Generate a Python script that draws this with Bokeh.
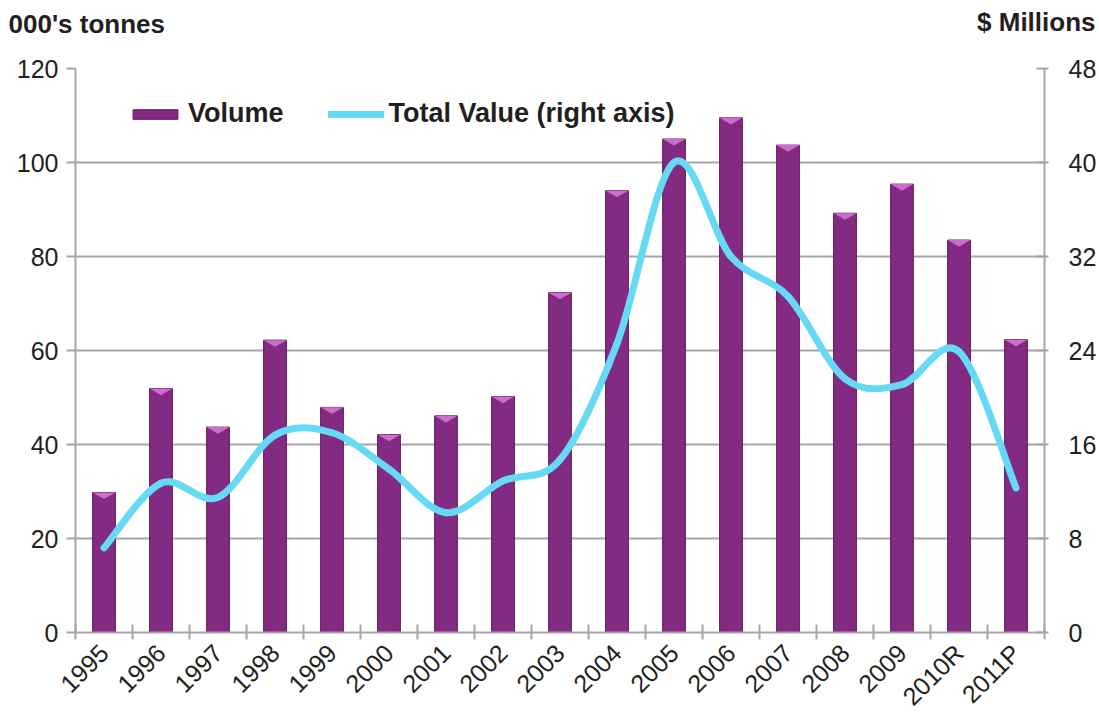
import math
from bokeh.plotting import figure
from bokeh.models import (Range1d, LinearAxis, FixedTicker, Legend, LegendItem, Title,
                          ColumnDataSource)
from bokeh.embed import file_html
from bokeh.resources import INLINE

years = ["1995", "1996", "1997", "1998", "1999", "2000", "2001", "2002", "2003",
         "2004", "2005", "2006", "2007", "2008", "2009", "2010R", "2011P"]
volume = [29.8, 51.9, 43.7, 62.2, 47.9, 42.1, 46.1, 50.2, 72.3,
          94.0, 105.0, 109.5, 103.7, 89.2, 95.4, 83.5, 62.3]
value = [7.2, 12.7, 11.5, 16.8, 17.0, 13.9, 10.2, 12.9, 14.7,
         24.6, 40.0, 32.0, 28.6, 21.6, 21.1, 23.9, 12.3]
left_ticks = [0, 20, 40, 60, 80, 100, 120]
right_ticks = [0, 8, 16, 24, 32, 40, 48]

FONT = "Liberation Sans"
AXIS_COLOR = "#A6A6A6"
TEXT_COLOR = "#231F20"
BAR_COLOR = "#832A82"
LINE_COLOR = "#66D9F5"

n = len(years)
xc = [i + 0.5 for i in range(n)]
bw = 0.40

t_left = Title(text="000's tonnes", align="left", offset=-67, standoff=-72,
               text_font=FONT, text_font_size="26px", text_font_style="bold",
               text_color=TEXT_COLOR)
t_right = Title(text="$ Millions\n ", align="right", offset=-51, standoff=4,
                text_font=FONT, text_font_size="26px", text_font_style="bold",
                text_color=TEXT_COLOR)

p = figure(width=1099, height=723, output_backend="svg", toolbar_location=None,
           x_range=Range1d(0, n), y_range=Range1d(0, 120),
           min_border_left=75, min_border_right=55, min_border_top=68, min_border_bottom=90)
p.title = t_left
p.add_layout(t_right, "above")
p.outline_line_color = None
p.background_fill_color = "white"
p.border_fill_color = "white"
p.extra_y_ranges = {"right": Range1d(0, 48)}

# bars
src = ColumnDataSource(dict(x=xc, top=volume))
bars = p.vbar(x="x", top="top", width=bw, source=src, fill_color=BAR_COLOR,
              line_color="#5E1D5E", line_width=1)
# bevel highlight on top of each bar
xs = [[x - bw / 2, x + bw / 2, x] for x in xc]
ys = [[v, v, v - 1.4] for v in volume]
p.patches(xs, ys, fill_color="#CC6CCC", line_color=None)

# smooth line (Catmull-Rom style bezier through the data points)
px = xc
py = value
x0s, y0s, x1s, y1s, cx0, cy0, cx1, cy1 = [], [], [], [], [], [], [], []
for i in range(n - 1):
    xa, ya = px[max(i - 1, 0)], py[max(i - 1, 0)]
    xb, yb = px[i], py[i]
    xcn, ycn = px[i + 1], py[i + 1]
    xd, yd = px[min(i + 2, n - 1)], py[min(i + 2, n - 1)]
    x0s.append(xb); y0s.append(yb); x1s.append(xcn); y1s.append(ycn)
    cx0.append(xb + (xcn - xa) / 6); cy0.append(yb + (ycn - ya) / 6)
    cx1.append(xcn - (xd - xb) / 6); cy1.append(ycn - (yd - yb) / 6)
curve = p.bezier(x0=x0s, y0=y0s, x1=x1s, y1=y1s, cx0=cx0, cy0=cy0, cx1=cx1, cy1=cy1,
                 line_color=LINE_COLOR, line_width=7, line_cap="round",
                 y_range_name="right")

# axes
xaxis = p.xaxis[0]
xaxis.ticker = FixedTicker(ticks=xc, minor_ticks=list(range(n + 1)))
xaxis.major_label_overrides = {x: y for x, y in zip(xc, years)}
xaxis.major_tick_in = 0
xaxis.major_tick_out = 0
xaxis.minor_tick_in = 8
xaxis.minor_tick_out = 7
xaxis.minor_tick_line_color = AXIS_COLOR
xaxis.minor_tick_line_width = 2
xaxis.major_label_orientation = math.pi / 4
xaxis.major_label_standoff = 9

yaxis = p.yaxis[0]
yaxis.ticker = FixedTicker(ticks=left_ticks)
yaxis.major_tick_in = 0
yaxis.major_tick_out = 9
yaxis.minor_tick_line_color = None

raxis = LinearAxis(y_range_name="right", ticker=FixedTicker(ticks=right_ticks))
raxis.major_tick_in = 8
raxis.major_tick_out = 4
raxis.minor_tick_line_color = None
p.add_layout(raxis, "right")

for ax in (xaxis, yaxis, raxis):
    ax.axis_line_color = AXIS_COLOR
    ax.axis_line_width = 2
    ax.major_tick_line_color = AXIS_COLOR
    ax.major_tick_line_width = 2
    ax.major_label_text_font = FONT
    ax.major_label_text_font_size = "25px"
    ax.major_label_text_color = TEXT_COLOR
yaxis.major_label_standoff = 8
raxis.major_label_standoff = 20

p.xgrid.grid_line_color = None
p.ygrid.ticker = FixedTicker(ticks=left_ticks)
p.ygrid.grid_line_color = AXIS_COLOR
p.ygrid.grid_line_width = 2

legend = Legend(items=[LegendItem(label="Volume", renderers=[bars]),
                       LegendItem(label="Total Value (right axis)", renderers=[curve])],
                orientation="horizontal", location=(52, 503),
                glyph_width=56, glyph_height=12, label_standoff=5, spacing=44,
                padding=0, margin=0, border_line_color=None,
                background_fill_alpha=0,
                label_text_font=FONT, label_text_font_size="27px",
                label_text_font_style="bold", label_text_color=TEXT_COLOR)
p.add_layout(legend)

open("out.html", "w").write(file_html(p, INLINE))
